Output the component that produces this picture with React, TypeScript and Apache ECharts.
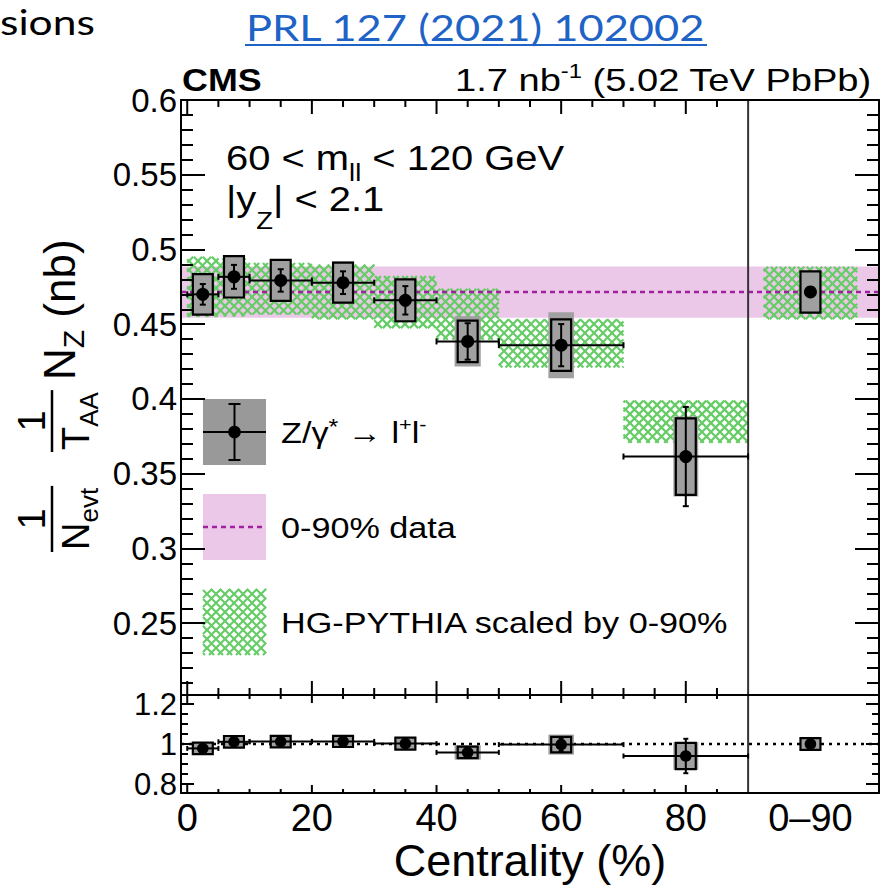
import React, { useEffect, useRef } from "react";
import * as echarts from "echarts";

// ---------------- data ----------------
const BIN_CENTERS = [2.5, 7.5, 15, 25, 35, 45, 60, 80, 100];
const BIN_HALF_WIDTHS = [2.5, 2.5, 5, 5, 5, 5, 10, 10, 0];
const YIELDS = [0.47, 0.4817, 0.4793, 0.4778, 0.466, 0.4385, 0.436, 0.3615, 0.4716];
const YIELD_STAT = [0.0069, 0.008, 0.0075, 0.0076, 0.0095, 0.0122, 0.0141, 0.0332, 0.003];
const YIELD_SYST = [0.0135, 0.0138, 0.0137, 0.0134, 0.014, 0.0139, 0.0172, 0.0256, 0.0138];
const YIELD_TOTAL = [0.0136, 0.0139, 0.0138, 0.0142, 0.0146, 0.0168, 0.0221, 0.0268, 0.0139];

const MODEL_FROM = [0, 5, 10, 20, 30, 40, 50, 70, 92.5];
const MODEL_TO = [5, 10, 20, 30, 40, 50, 70, 90, 107.5];
const MODEL_LOW = [0.4551, 0.4553, 0.4565, 0.4533, 0.4474, 0.4397, 0.4211, 0.3707, 0.4533];
const MODEL_HIGH = [0.4951, 0.494, 0.491, 0.4898, 0.4822, 0.4738, 0.4533, 0.3989, 0.4885];

const INCLUSIVE_MEAN = 0.4716;
const INCLUSIVE_LOW = 0.4543;
const INCLUSIVE_HIGH = 0.4887;

const RATIO = [0.978, 1.011, 1.012, 1.013, 1.002, 0.958, 0.997, 0.94, 1.0];
const RATIO_STAT = [0.015, 0.017, 0.016, 0.016, 0.02, 0.026, 0.032, 0.086, 0.005];
const RATIO_SYST = [0.029, 0.029, 0.029, 0.028, 0.03, 0.029, 0.039, 0.066, 0.029];
const RATIO_TOTAL = [0.03, 0.03, 0.03, 0.031, 0.032, 0.036, 0.05, 0.069, 0.03];

const X_MAJOR_TICKS = [0, 20, 40, 60, 80];
const X_MINOR_TICKS = [5, 10, 15, 25, 30, 35, 45, 50, 55, 65, 70, 75, 85];
const X_LABEL_VALUES = [0, 20, 40, 60, 80, 100];
const X_LABELS = ["0", "20", "40", "60", "80", "0–90"];
const SEPARATOR_AT = 90;

// axis ranges
const X_MIN = -1;
const X_MAX = 111;
const Y_MIN = 0.202;
const Y_MAX = 0.6;
const R_MIN = 0.755;
const R_MAX = 1.245;

// ---------------- styles ----------------
const FONT = '"Liberation Sans", Arial, Helvetica, sans-serif';
const SLIDE_FONT = 'Lato, "Liberation Sans", sans-serif';
const CENTRAL = 0.3465;
const STRETCH = 1.14;
const SYST_BOX_HALF = 1.6;
const TOTAL_BOX_HALF = [1.6, 1.6, 1.6, 1.75, 1.75, 2.1, 2.05, 2.0, 1.6];
const GRAY = "#a0a0a0";
const PINK = "#ebc8e8";
const PURPLE = "#a020a0";
const GREEN = "#66cc66";
const HATCH_STEP = 9;

let ctx: any = null;
function measure(t: string, size: number, weight = "normal", family = FONT) {
  if (!ctx) ctx = document.createElement("canvas").getContext("2d");
  ctx.font = `${weight} ${size}px ${family}`;
  return ctx.measureText(t).width;
}

type Piece = { t: string; size: number; shift?: number; weight?: string };

function textLine(
  pieces: Piece[],
  x: number,
  baseline: number,
  align: "left" | "right" | "center",
  scaleX: number,
  family = FONT,
  fill = "#000"
) {
  const widths = pieces.map((p) => measure(p.t, p.size, p.weight || "normal", family));
  const total = widths.reduce((a, b) => a + b, 0);
  let cur = align === "left" ? 0 : align === "right" ? -total : -total / 2;
  const children: any[] = [];
  pieces.forEach((p, k) => {
    const lead = p.t.length - p.t.trimStart().length;
    const leadW = lead ? measure(p.t.slice(0, lead), p.size, p.weight || "normal", family) : 0;
    children.push({
      type: "text",
      x: cur + leadW,
      y: (p.shift || 0) - CENTRAL * p.size,
      style: {
        text: p.t.trim(),
        fontSize: p.size,
        fontFamily: family,
        fontWeight: p.weight || "normal",
        fill,
        align: "left",
        verticalAlign: "middle",
      },
    });
    cur += widths[k];
  });
  return { type: "group", x, y: baseline, scaleX, children };
}

function hatchLines(x0: number, y0: number, x1: number, y1: number, step: number) {
  const segs: number[][] = [];
  for (let k = Math.ceil((x0 + y0) / step) * step; k <= x1 + y1; k += step) {
    const xs = Math.max(x0, k - y1);
    const xe = Math.min(x1, k - y0);
    if (xe > xs) segs.push([xs, k - xs, xe, k - xe]);
  }
  for (let k = Math.ceil((x0 - y1) / step) * step; k <= x1 - y0; k += step) {
    const xs = Math.max(x0, k + y0);
    const xe = Math.min(x1, k + y1);
    if (xe > xs) segs.push([xs, xs - k, xe, xe - k]);
  }
  return segs.map((s) => ({
    type: "line",
    shape: { x1: s[0], y1: s[1], x2: s[2], y2: s[3] },
    style: { stroke: GREEN, lineWidth: 2.2 },
  }));
}

function makePointRenderer(vals: number[], stat: number[], syst: number[], total: number[], markerR: number, cap: number, lw: number) {
  return (_p: any, api: any) => {
    const i = api.value(2);
    const c = BIN_CENTERS[i];
    const v = vals[i];
    const [px, py] = api.coord([c, v]);
    const ls = { stroke: "#000", lineWidth: lw };
    const kids: any[] = [];
    const g0 = api.coord([c - TOTAL_BOX_HALF[i], v + total[i]]);
    const g1 = api.coord([c + TOTAL_BOX_HALF[i], v - total[i]]);
    kids.push({ type: "rect", shape: { x: g0[0], y: g0[1], width: g1[0] - g0[0], height: g1[1] - g0[1] }, style: { fill: GRAY } });
    const s0 = api.coord([c - SYST_BOX_HALF, v + syst[i]]);
    const s1 = api.coord([c + SYST_BOX_HALF, v - syst[i]]);
    kids.push({
      type: "rect",
      shape: { x: s0[0], y: s0[1], width: s1[0] - s0[0], height: s1[1] - s0[1] },
      style: { fill: "transparent", stroke: "#000", lineWidth: 2.2 },
    });
    if (BIN_HALF_WIDTHS[i] > 0) {
      const xl = api.coord([c - BIN_HALF_WIDTHS[i], v])[0];
      const xr = api.coord([c + BIN_HALF_WIDTHS[i], v])[0];
      kids.push({ type: "line", shape: { x1: xl, y1: py, x2: xr, y2: py }, style: ls });
      kids.push({ type: "line", shape: { x1: xl, y1: py - cap, x2: xl, y2: py + cap }, style: ls });
      kids.push({ type: "line", shape: { x1: xr, y1: py - cap, x2: xr, y2: py + cap }, style: ls });
    }
    const yt = api.coord([c, v + stat[i]])[1];
    const yb = api.coord([c, v - stat[i]])[1];
    kids.push({ type: "line", shape: { x1: px, y1: yt, x2: px, y2: yb }, style: ls });
    kids.push({ type: "line", shape: { x1: px - cap, y1: yt, x2: px + cap, y2: yt }, style: ls });
    kids.push({ type: "line", shape: { x1: px - cap, y1: yb, x2: px + cap, y2: yb }, style: ls });
    kids.push({ type: "circle", shape: { cx: px, cy: py, r: markerR }, style: { fill: "#000" } });
    return { type: "group", children: kids };
  };
}

function makeTickRenderer(yLo: number, yHi: number, majorLen: number, minorLen: number) {
  return (_p: any, api: any) => {
    const t = api.value(0);
    const len = api.value(2) === 1 ? majorLen : minorLen;
    const top = api.coord([t, yHi]);
    const bot = api.coord([t, yLo]);
    const st = { stroke: "#000", lineWidth: 2 };
    return {
      type: "group",
      children: [
        { type: "line", shape: { x1: top[0], y1: top[1], x2: top[0], y2: top[1] + len }, style: st },
        { type: "line", shape: { x1: bot[0], y1: bot[1], x2: bot[0], y2: bot[1] - len }, style: st },
      ],
    };
  };
}

function tickData(yHi: number) {
  return [...X_MAJOR_TICKS.map((t) => [t, yHi, 1]), ...X_MINOR_TICKS.map((t) => [t, yHi, 0])];
}

function xAxisDef(grid: number, pos: string, labels: boolean) {
  const ax: any = {
    type: "value",
    gridIndex: grid,
    position: pos,
    min: X_MIN,
    max: X_MAX,
    splitNumber: 5,
    z: 10,
    axisLine: { show: true, onZero: false, lineStyle: { color: "#000", width: 2 } },
    axisTick: { show: false },
    splitLine: { show: false },
    axisLabel: { show: false },
  };
  if (labels) {
    ax.axisLabel = {
      show: true,
      showMinLabel: false,
      showMaxLabel: false,
      fontSize: 38,
      fontFamily: FONT,
      color: "#000",
      margin: 6,
      formatter: (v: number) => {
        const k = X_LABEL_VALUES.indexOf(v);
        return k >= 0 ? X_LABELS[k] : "";
      },
    };
    ax.name = "Centrality (%)";
    ax.nameLocation = "middle";
    ax.nameGap = 42;
    ax.nameTextStyle = { fontSize: 45, fontFamily: FONT, color: "#000" };
  }
  return ax;
}

function yAxisDef(grid: number, pos: string, min: number, max: number, split: number, major: number, minor: number, minorSplit: number, labels: boolean, fontSize: number, showMax: boolean) {
  return {
    type: "value",
    gridIndex: grid,
    position: pos,
    min,
    max,
    splitNumber: split,
    z: 10,
    axisLine: { show: true, onZero: false, lineStyle: { color: "#000", width: 2 } },
    axisTick: { show: true, inside: true, length: major, lineStyle: { color: "#000", width: 2 } },
    minorTick: { show: true, splitNumber: minorSplit, length: minor, lineStyle: { color: "#000", width: 2 } },
    splitLine: { show: false },
    minorSplitLine: { show: false },
    axisLabel: labels
      ? { show: true, showMinLabel: false, showMaxLabel: showMax, fontSize, fontFamily: FONT, color: "#000", margin: 4 }
      : { show: false },
  };
}

function yTitle() {
  const F1 = 38;
  const FS = 26;
  const FM = 44;
  const FZ = 30;
  const kids: any[] = [];
  const add = (t: string, u: number, base: number, size: number, align = "left") =>
    kids.push({
      type: "text",
      x: u,
      y: base - CENTRAL * size,
      style: { text: t, fontSize: size, fontFamily: FONT, fill: "#000", align, verticalAlign: "middle" },
    });
  const bar = (u0: number, u1: number) =>
    kids.push({ type: "line", shape: { x1: u0, y1: 52, x2: u1, y2: 52 }, style: { stroke: "#000", lineWidth: 2.5 } });
  // 1 / N_evt
  const wN = measure("N", F1);
  const wEvt = measure("evt", FS);
  add("N", 0, 89, F1);
  add("evt", wN, 98, FS);
  bar(-2, wN + wEvt + 2);
  add("1", (wN + wEvt) / 2, 45, F1, "center");
  // 1 / T_AA
  const u2 = 100;
  const wT = measure("T", F1);
  const wAA = measure("AA", FS);
  add("T", u2, 89, F1);
  add("AA", u2 + wT, 98, FS);
  bar(u2 - 2, u2 + wT + wAA + 2);
  add("1", u2 + (wT + wAA) / 2, 45, F1, "center");
  // N_Z (nb)
  const u3 = 170;
  const wNm = measure("N", FM);
  const wZ = measure("Z", FZ);
  add("N", u3, 75, FM);
  add("Z", u3 + wNm, 84, FZ);
  add("(nb)", u3 + wNm + wZ + measure(" ", FM), 75, FM);
  return { type: "group", x: 0, y: 550, rotation: Math.PI / 2, children: kids };
}

function legend() {
  const X0 = 203;
  const W = 63;
  const H = 66;
  const ROWS = [399, 494, 589];
  const TX = 281;
  const els: any[] = [];
  const ls = { stroke: "#000", lineWidth: 2 };
  // row 1: data
  const cx = X0 + W / 2;
  const cy = ROWS[0] + H / 2;
  els.push({ type: "rect", shape: { x: X0, y: ROWS[0], width: W, height: H }, style: { fill: "#999" } });
  els.push({ type: "line", shape: { x1: X0, y1: cy, x2: X0 + W, y2: cy }, style: ls });
  els.push({ type: "line", shape: { x1: cx, y1: ROWS[0] + 5, x2: cx, y2: ROWS[0] + H - 5 }, style: ls });
  els.push({ type: "line", shape: { x1: cx - 6, y1: ROWS[0] + 5, x2: cx + 6, y2: ROWS[0] + 5 }, style: ls });
  els.push({ type: "line", shape: { x1: cx - 6, y1: ROWS[0] + H - 5, x2: cx + 6, y2: ROWS[0] + H - 5 }, style: ls });
  els.push({ type: "circle", shape: { cx, cy, r: 6.3 }, style: { fill: "#000" } });
  els.push(
    textLine(
      [
        { t: "Z/γ", size: 30 },
        { t: "*", size: 22, shift: -9 },
        { t: " → l", size: 30 },
        { t: "+", size: 19, shift: -12 },
        { t: "l", size: 30 },
        { t: "-", size: 19, shift: -12 },
      ],
      TX,
      cy + 10.7,
      "left",
      STRETCH
    )
  );
  // row 2: inclusive band
  const cy2 = ROWS[1] + H / 2;
  els.push({ type: "rect", shape: { x: X0, y: ROWS[1], width: W, height: H }, style: { fill: PINK } });
  els.push({ type: "line", shape: { x1: X0, y1: cy2, x2: X0 + W, y2: cy2 }, style: { stroke: PURPLE, lineWidth: 2.5, lineDash: [5, 4] } });
  els.push(textLine([{ t: "0-90% data", size: 30 }], TX, cy2 + 10.7, "left", STRETCH));
  // row 3: model hatch
  const cy3 = ROWS[2] + H / 2;
  els.push(...hatchLines(X0, ROWS[2], X0 + W, ROWS[2] + H, HATCH_STEP));
  els.push(textLine([{ t: "HG-PYTHIA scaled by 0-90%", size: 30 }], TX, cy3 + 10.7, "left", STRETCH));
  return els;
}

function buildOption() {
  const prlW = measure("PRL 127 (2021) 102002", 36, "normal", SLIDE_FONT);
  const prlScale = 460 / prlW;
  const prl = textLine([{ t: "PRL 127 (2021) 102002", size: 36 }], 476, 39, "center", prlScale, SLIDE_FONT, "#1f63c6");
  const graphics: any[] = [
    textLine([{ t: "sions", size: 34 }], 0, 34, "left", 1.25, SLIDE_FONT),
    prl,
    { type: "line", shape: { x1: 476 - 231, y1: 45, x2: 476 + 231, y2: 45 }, style: { stroke: "#1f63c6", lineWidth: 2 } },
    textLine([{ t: "CMS", size: 32, weight: "bold" }], 182, 91, "left", 1.12),
    textLine(
      [
        { t: "1.7 nb", size: 32 },
        { t: "-1", size: 20, shift: -13 },
        { t: " (5.02 TeV PbPb)", size: 32 },
      ],
      872,
      91,
      "right",
      1.19
    ),
    textLine(
      [
        { t: "60 < m", size: 35 },
        { t: "ll", size: 24, shift: 11 },
        { t: " < 120 GeV", size: 35 },
      ],
      226,
      170,
      "left",
      STRETCH
    ),
    textLine(
      [
        { t: "|y", size: 35 },
        { t: "Z", size: 24, shift: 18 },
        { t: "| < 2.1", size: 35 },
      ],
      226,
      211,
      "left",
      STRETCH
    ),
    yTitle(),
    ...legend(),
  ];

  const mainIdx = { xAxisIndex: 0, yAxisIndex: 0 };
  const ratioIdx = { xAxisIndex: 2, yAxisIndex: 2 };

  const series: any[] = [
    {
      type: "custom",
      ...mainIdx,
      z: 1,
      silent: true,
      data: [[X_MIN, INCLUSIVE_MEAN]],
      renderItem: (_p: any, api: any) => {
        const a = api.coord([X_MIN, INCLUSIVE_HIGH]);
        const b = api.coord([X_MAX, INCLUSIVE_LOW]);
        return { type: "rect", shape: { x: a[0], y: a[1], width: b[0] - a[0], height: b[1] - a[1] }, style: { fill: PINK } };
      },
    },
    {
      type: "custom",
      ...mainIdx,
      z: 2,
      silent: true,
      data: MODEL_FROM.map((x0, i) => [x0, MODEL_LOW[i], i]),
      renderItem: (_p: any, api: any) => {
        const i = api.value(2);
        const a = api.coord([MODEL_FROM[i], MODEL_HIGH[i]]);
        const b = api.coord([MODEL_TO[i], MODEL_LOW[i]]);
        return { type: "group", children: hatchLines(a[0], a[1], b[0], b[1], HATCH_STEP) };
      },
    },
    {
      type: "custom",
      ...mainIdx,
      z: 3,
      silent: true,
      data: [[X_MIN, INCLUSIVE_MEAN]],
      renderItem: (_p: any, api: any) => {
        const a = api.coord([X_MIN, INCLUSIVE_MEAN]);
        const b = api.coord([X_MAX, INCLUSIVE_MEAN]);
        return { type: "line", shape: { x1: a[0], y1: a[1], x2: b[0], y2: b[1] }, style: { stroke: PURPLE, lineWidth: 2.5, lineDash: [5, 4] } };
      },
    },
    {
      type: "custom",
      ...mainIdx,
      z: 4,
      silent: true,
      data: [[SEPARATOR_AT, Y_MIN]],
      renderItem: (_p: any, api: any) => {
        const a = api.coord([SEPARATOR_AT, Y_MIN]);
        const b = api.coord([SEPARATOR_AT, Y_MAX]);
        return { type: "line", shape: { x1: a[0], y1: a[1], x2: b[0], y2: b[1] }, style: { stroke: "#333", lineWidth: 2 } };
      },
    },
    { type: "custom", ...mainIdx, z: 5, silent: true, data: tickData(Y_MAX), renderItem: makeTickRenderer(Y_MIN, Y_MAX, 14, 7) },
    {
      type: "custom",
      ...mainIdx,
      z: 6,
      silent: true,
      data: BIN_CENTERS.map((c, i) => [c, YIELDS[i], i]),
      renderItem: makePointRenderer(YIELDS, YIELD_STAT, YIELD_SYST, YIELD_TOTAL, 6.5, 3, 2),
    },
    // ratio panel
    {
      type: "custom",
      ...ratioIdx,
      z: 3,
      silent: true,
      data: [[X_MIN, 1]],
      renderItem: (_p: any, api: any) => {
        const a = api.coord([X_MIN, 1]);
        const b = api.coord([X_MAX, 1]);
        return { type: "line", shape: { x1: a[0], y1: a[1], x2: b[0], y2: b[1] }, style: { stroke: "#000", lineWidth: 2.5, lineDash: [3, 5] } };
      },
    },
    {
      type: "custom",
      ...ratioIdx,
      z: 4,
      silent: true,
      data: [[SEPARATOR_AT, R_MIN]],
      renderItem: (_p: any, api: any) => {
        const a = api.coord([SEPARATOR_AT, R_MIN]);
        const b = api.coord([SEPARATOR_AT, R_MAX]);
        return { type: "line", shape: { x1: a[0], y1: a[1], x2: b[0], y2: b[1] }, style: { stroke: "#333", lineWidth: 2 } };
      },
    },
    { type: "custom", ...ratioIdx, z: 5, silent: true, data: tickData(R_MAX), renderItem: makeTickRenderer(R_MIN, R_MAX, 8, 4) },
    {
      type: "custom",
      ...ratioIdx,
      z: 6,
      silent: true,
      data: BIN_CENTERS.map((c, i) => [c, RATIO[i], i]),
      renderItem: makePointRenderer(RATIO, RATIO_STAT, RATIO_SYST, RATIO_TOTAL, 5.8, 2.5, 2),
    },
  ];

  return {
    animation: false,
    backgroundColor: "#fff",
    grid: [
      { left: 181, top: 100, width: 698, height: 595 },
      { left: 181, top: 695, width: 698, height: 98 },
    ],
    xAxis: [xAxisDef(0, "bottom", false), xAxisDef(0, "top", false), xAxisDef(1, "bottom", true), xAxisDef(1, "top", false)],
    yAxis: [
      yAxisDef(0, "left", Y_MIN, Y_MAX, 8, 24, 12, 5, true, 33, true),
      yAxisDef(0, "right", Y_MIN, Y_MAX, 8, 24, 12, 5, false, 33, true),
      yAxisDef(1, "left", R_MIN, R_MAX, 3, 13, 7, 4, true, 31, false),
      yAxisDef(1, "right", R_MIN, R_MAX, 3, 13, 7, 4, false, 31, false),
    ],
    graphic: { elements: graphics },
    series,
  };
}

export default function App() {
  const ref = useRef<HTMLDivElement>(null);
  useEffect(() => {
    const chart = echarts.init(ref.current as HTMLDivElement, null, { renderer: "svg" });
    chart.setOption(buildOption() as any);
    return () => chart.dispose();
  }, []);
  return (
    <div
      ref={ref}
      style={{ position: "fixed", left: 0, top: 0, width: 884, height: 887, background: "#fff" }}
    />
  );
}
